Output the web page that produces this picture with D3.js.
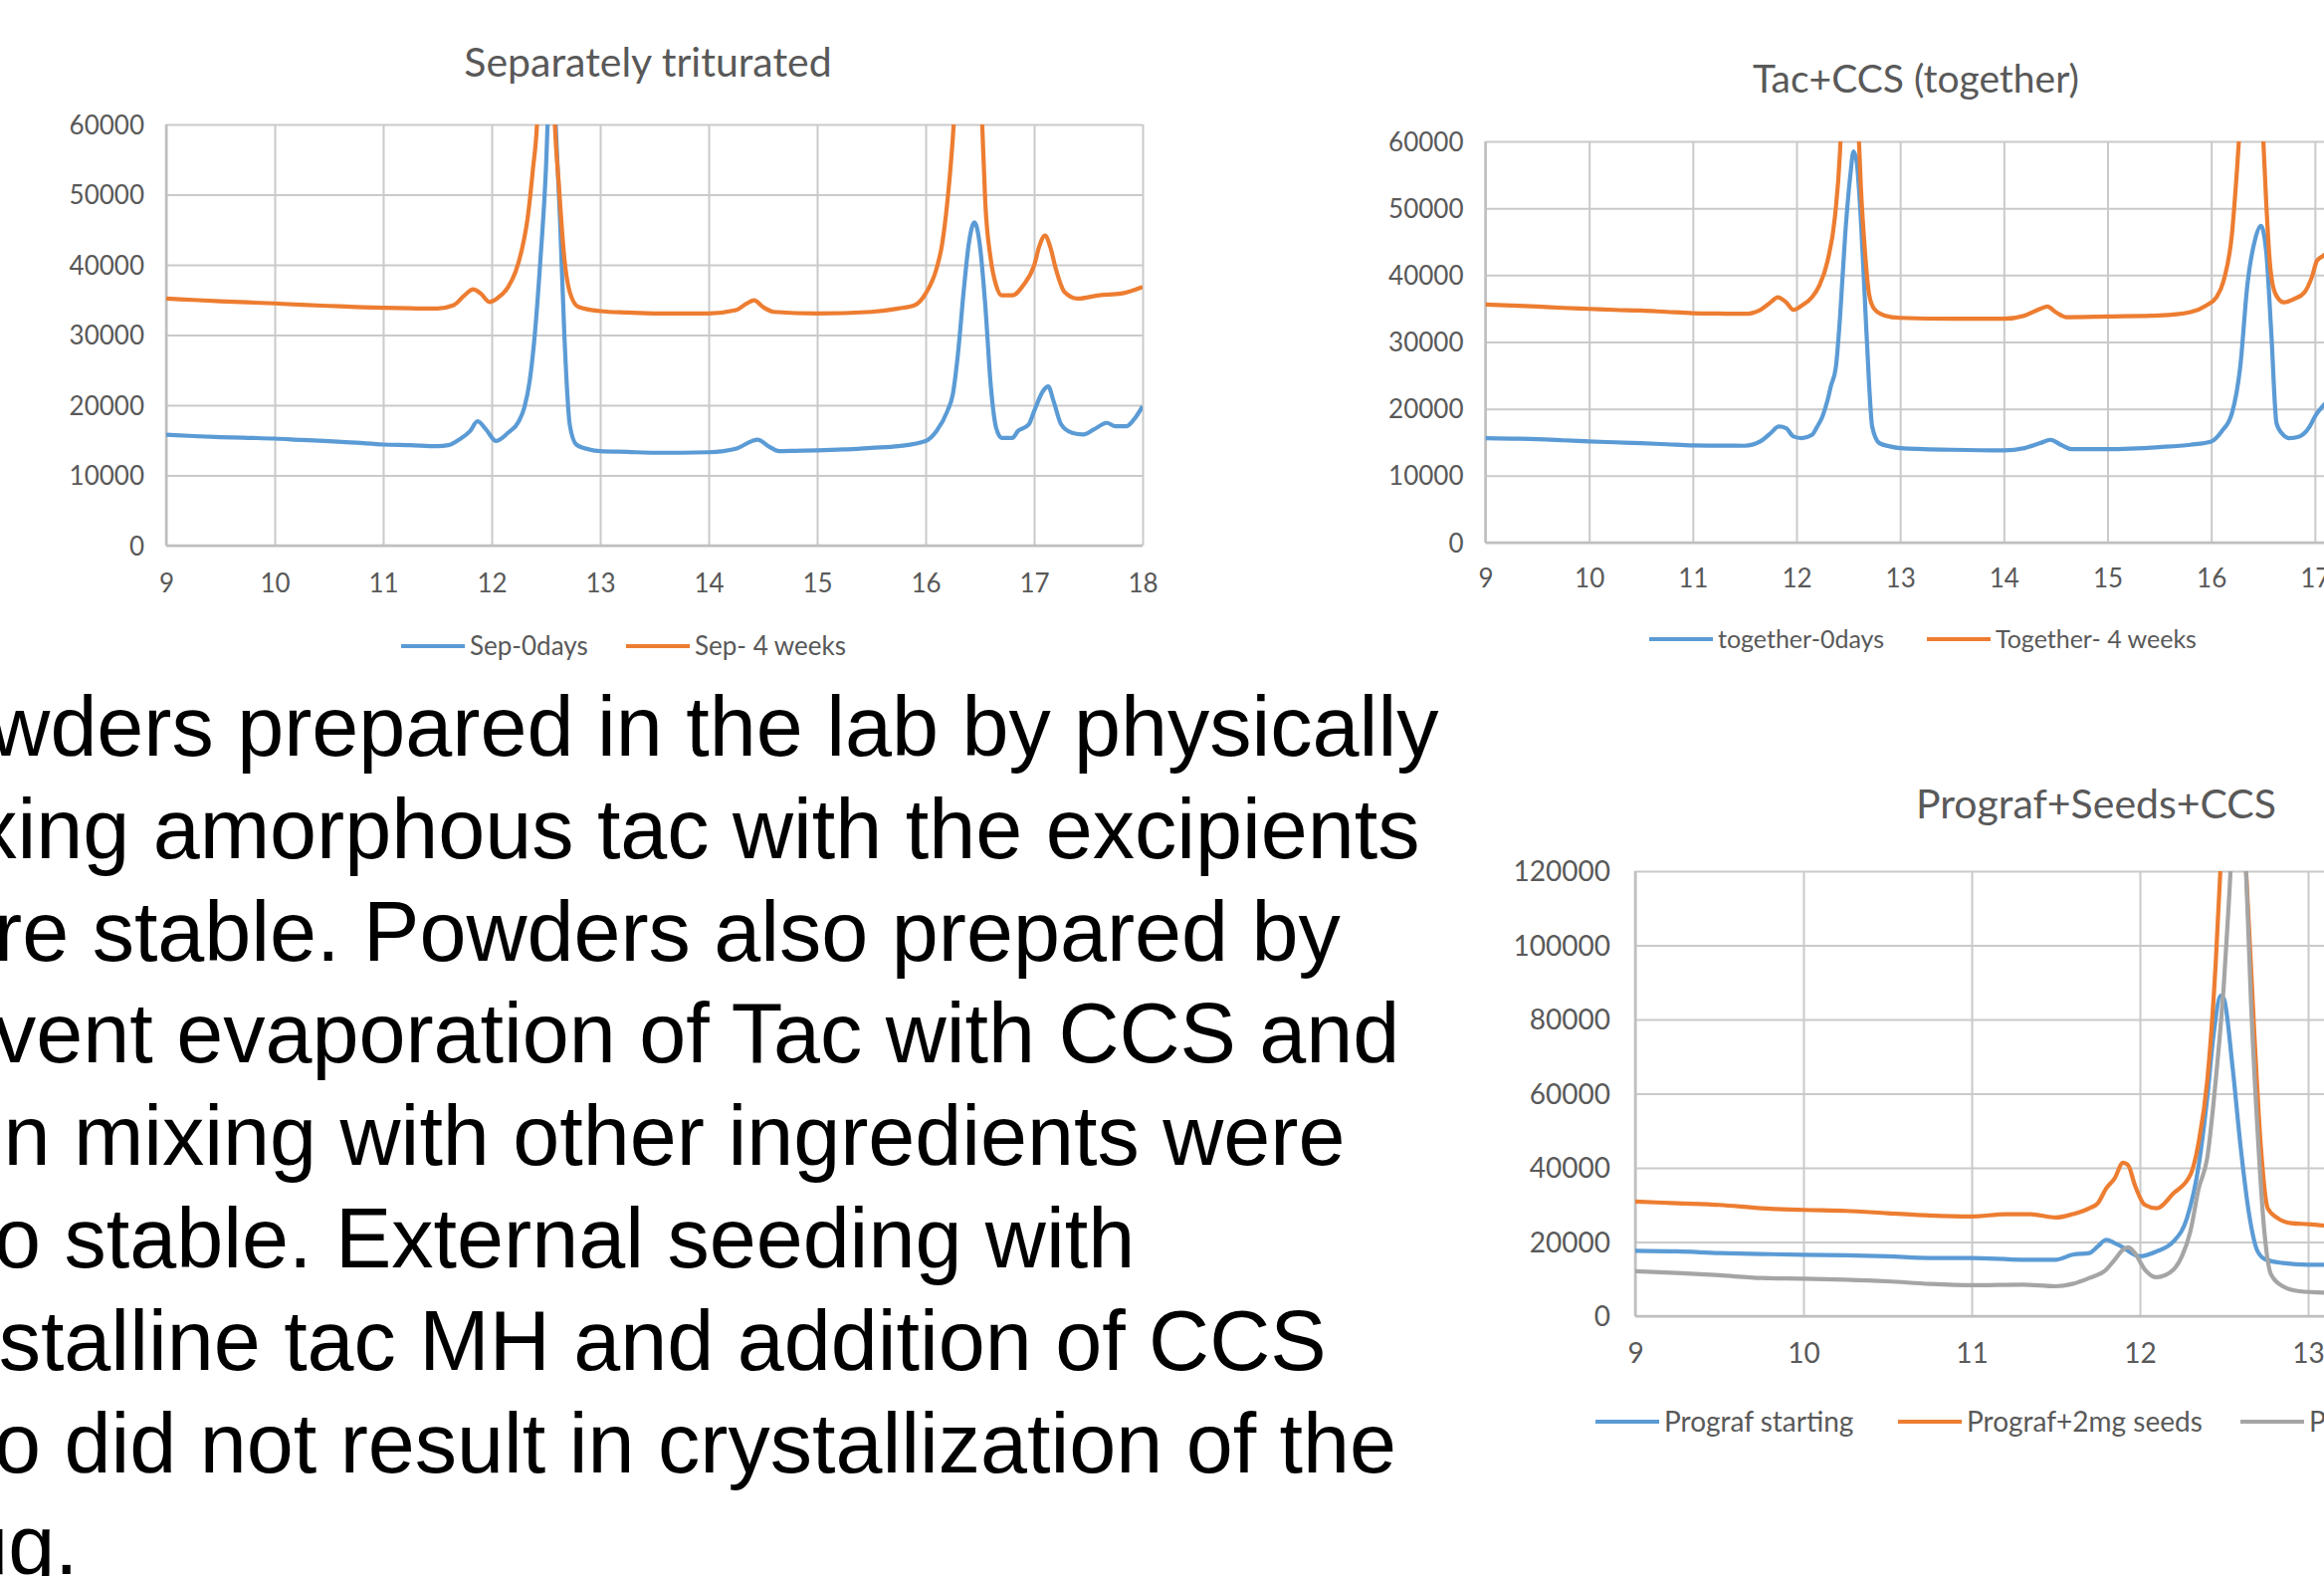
<!DOCTYPE html>
<html>
<head>
<meta charset="utf-8">
<script src="https://cdn.jsdelivr.net/npm/d3@7"></script>
<style>
body { margin: 0; background: #fff; overflow: hidden; }
svg { display: block; }
.tick text { fill: #595959; font-family: Lato, "Open Sans", sans-serif; }
</style>
</head>
<body>
<script>
var width = 2335,
    height = 1583;

// ---- data (2-theta, counts) ----
var sepTitle = "Separately triturated";
var sepNames = ["Sep-0days", "Sep- 4 weeks"];
var sep0days = [[9,15800],[9.25,15600],[9.5,15450],[9.75,15350],[10,15250],[10.25,15050],[10.5,14880],[10.75,14650],[11,14400],[11.25,14300],[11.5,14170],[11.6,14300],[11.7,15100],[11.8,16300],[11.87,17700],[11.95,16500],[12.04,14900],[12.15,16060],[12.25,17700],[12.3,19600],[12.35,23400],[12.4,30500],[12.45,40900],[12.5,53600],[12.53,66000],[12.56,72000],[12.59,60000],[12.63,46500],[12.67,30000],[12.72,17200],[12.78,14400],[12.9,13700],[13,13460],[13.25,13350],[13.5,13230],[13.75,13230],[14,13300],[14.25,13800],[14.4,14900],[14.45,15100],[14.55,14170],[14.65,13460],[14.8,13500],[15,13560],[15.25,13700],[15.5,13930],[15.75,14170],[16,14880],[16.1,16300],[16.2,19130],[16.25,21500],[16.3,27600],[16.35,36100],[16.4,43200],[16.45,46050],[16.5,42800],[16.55,34250],[16.6,22900],[16.65,16770],[16.7,15350],[16.8,15350],[16.85,16300],[16.95,17240],[17,19130],[17.08,21960],[17.13,22670],[17.18,20550],[17.25,17240],[17.35,16060],[17.45,15820],[17.55,16530],[17.67,17480],[17.75,17000],[17.85,17000],[17.92,17950],[18,19840]];
var sep4weeks = [[9,35200],[9.25,35000],[9.5,34800],[9.75,34650],[10,34500],[10.25,34300],[10.5,34150],[10.75,34000],[11,33870],[11.25,33800],[11.5,33770],[11.65,34250],[11.75,35660],[11.83,36500],[11.9,35900],[11.98,34700],[12.05,35200],[12.15,36800],[12.22,39000],[12.28,42300],[12.33,46500],[12.38,53600],[12.42,60700],[12.46,80000],[12.5,95000],[12.54,85000],[12.58,61000],[12.62,51250],[12.67,40900],[12.72,36100],[12.8,34000],[13,33400],[13.25,33200],[13.5,33070],[14,33070],[14.25,33540],[14.35,34480],[14.42,34950],[14.5,34000],[14.6,33300],[15,33070],[15.5,33300],[15.75,33770],[15.9,34250],[16,35900],[16.1,39440],[16.15,42750],[16.2,48900],[16.25,57900],[16.3,70000],[16.4,90000],[16.48,75000],[16.52,60700],[16.55,48900],[16.6,40860],[16.65,37080],[16.7,35660],[16.8,35660],[16.9,37080],[17,39900],[17.05,42750],[17.1,44170],[17.15,42500],[17.2,39440],[17.28,36140],[17.4,35190],[17.6,35660],[17.8,35900],[18,36850]];

var togTitle = "Tac+CCS (together)";
var togNames = ["together-0days", "Together- 4 weeks"];
var tog0days = [[9,15620],[9.25,15550],[9.5,15470],[9.75,15300],[10,15120],[10.25,15000],[10.5,14870],[10.75,14700],[11,14530],[11.25,14500],[11.5,14480],[11.65,15120],[11.75,16360],[11.83,17350],[11.9,17100],[11.97,15870],[12.05,15620],[12.15,16110],[12.2,17350],[12.25,18840],[12.3,21320],[12.33,23300],[12.38,26280],[12.42,33710],[12.47,46110],[12.52,55030],[12.55,58500],[12.58,57000],[12.62,48600],[12.66,36200],[12.7,23800],[12.73,17350],[12.8,14870],[12.9,14380],[13,14130],[13.5,13880],[14,13780],[14.2,14130],[14.35,14870],[14.45,15370],[14.55,14630],[14.65,13980],[15,13980],[15.5,14280],[15.8,14630],[16,15120],[16.1,16610],[16.2,19340],[16.28,26280],[16.35,38670],[16.42,45120],[16.48,47350],[16.53,43630],[16.58,31230],[16.63,17850],[16.68,16360],[16.75,15620],[16.85,15870],[16.95,17350],[17,18840],[17.1,20820],[17.2,22500]];
var tog4weeks = [[9,35600],[9.25,35450],[9.5,35300],[9.75,35100],[10,34950],[10.25,34800],[10.5,34700],[10.75,34500],[11,34310],[11.25,34250],[11.5,34210],[11.65,34800],[11.75,35940],[11.82,36690],[11.9,35940],[11.97,34800],[12.05,35450],[12.15,36690],[12.22,38420],[12.3,42140],[12.37,48590],[12.42,58500],[12.46,75000],[12.52,88000],[12.57,76000],[12.6,61000],[12.62,53500],[12.66,43630],[12.7,37180],[12.75,34950],[12.85,33960],[13,33610],[13.5,33470],[14,33470],[14.2,33960],[14.35,34950],[14.42,35300],[14.5,34460],[14.6,33710],[15,33810],[15.5,33960],[15.8,34460],[15.95,35450],[16.05,36690],[16.12,39170],[16.2,46110],[16.25,56020],[16.3,68000],[16.38,85000],[16.45,74000],[16.5,61000],[16.53,51070],[16.57,41150],[16.62,37180],[16.7,35940],[16.8,36440],[16.9,37430],[16.97,39660],[17.02,42140],[17.08,42880],[17.2,44000]];

var proTitle = "Prograf+Seeds+CCS";
var proNames = ["Prograf starting", "Prograf+2mg seeds", "Prograf+2mg seeds+CCS"];
var proStarting = [[9,17640],[9.25,17460],[9.5,17020],[9.75,16750],[10,16570],[10.25,16390],[10.5,16120],[10.75,15670],[11,15670],[11.3,15220],[11.5,15220],[11.6,16570],[11.7,17020],[11.75,18810],[11.8,20600],[11.85,19700],[11.9,18540],[11.95,17020],[12,16120],[12.1,17470],[12.2,20150],[12.28,26420],[12.35,40750],[12.4,58660],[12.44,76570],[12.48,86430],[12.5,85530],[12.55,67620],[12.6,45230],[12.65,27320],[12.7,17470],[12.75,15220],[12.85,14330],[13,13880],[13.15,13880]];
var proSeeds = [[9,30900],[9.25,30450],[9.5,30000],[9.75,29100],[10,28660],[10.25,28390],[10.5,27770],[10.75,27140],[11,26870],[11.2,27500],[11.35,27500],[11.5,26600],[11.6,27500],[11.7,29100],[11.75,30450],[11.8,34480],[11.85,37170],[11.9,41380],[11.93,40750],[11.97,35380],[12.03,30000],[12.1,29100],[12.2,33140],[12.3,38060],[12.35,47020],[12.4,63140],[12.45,94490],[12.48,121400],[12.55,160000],[12.63,121400],[12.68,76570],[12.72,45230],[12.76,29100],[12.82,26420],[12.9,25080],[13,24810],[13.15,24180]];
var proSeedsCCS = [[9,12090],[9.25,11640],[9.5,11020],[9.75,10300],[10,10120],[10.25,9850],[10.5,9400],[10.75,8690],[11,8330],[11.3,8510],[11.5,8060],[11.6,8690],[11.7,10300],[11.8,12540],[11.85,15220],[11.9,17910],[11.93,18540],[11.97,17020],[12.03,12540],[12.1,10480],[12.15,11020],[12.25,16120],[12.3,22840],[12.35,34480],[12.4,42540],[12.45,63140],[12.5,90010],[12.53,112400],[12.58,150000],[12.63,121400],[12.66,85530],[12.7,49710],[12.74,22840],[12.78,11200],[12.85,8060],[12.95,6720],[13.15,6270]];

var xTicks = [9, 10, 11, 12, 13, 14, 15, 16, 17, 18];
var yTicks60 = [0, 10000, 20000, 30000, 40000, 50000, 60000];
var yTicks120 = [0, 20000, 40000, 60000, 80000, 100000, 120000];

var textLines = [
  "Powders prepared in the lab by physically",
  "mixing amorphous tac with the excipients",
  "were stable. Powders also prepared by",
  "solvent evaporation of Tac with CCS and",
  "then mixing with other ingredients were",
  "also stable. External seeding with",
  "crystalline tac MH and addition of CCS",
  "also did not result in crystallization of the",
  "drug."
];

var colors = ["#5B9BD5", "#ED7D31", "#A5A5A5"];

var svg = d3.select("body").append("svg")
  .attr("width", width)
  .attr("height", height);

function drawChart(o) {
  var g = svg.append("g");
  var x = d3.scaleLinear().domain(o.xDomain).range([o.left, o.right]);
  var y = d3.scaleLinear().domain(o.yDomain).range([o.bottom, o.top]);

  var yAxis = g.append("g")
    .attr("transform", "translate(" + o.left + ",0)")
    .call(d3.axisLeft(y).tickValues(o.yTicks).tickSize(-(o.right - o.left)).tickPadding(o.yPad).tickFormat(d3.format("d")));
  var xAxis = g.append("g")
    .attr("transform", "translate(0," + o.bottom + ")")
    .call(d3.axisBottom(x).tickValues(o.xTicks).tickSize(-(o.bottom - o.top)).tickFormat(d3.format("d")));

  [yAxis, xAxis].forEach(function(a) {
    a.select(".domain").remove();
    a.selectAll(".tick line").attr("stroke", "#CACACA").attr("stroke-width", 2);
    a.selectAll(".tick text").style("font-size", o.tickSize + "px");
  });
  xAxis.selectAll(".tick text").attr("y", o.xLabelY - o.bottom).attr("dy", "0.35em");
  yAxis.selectAll(".tick text").attr("dy", "0.35em");

  // axis lines on top of grid
  g.append("line").attr("x1", o.left).attr("x2", o.right).attr("y1", o.bottom).attr("y2", o.bottom)
    .attr("stroke", "#BFBFBF").attr("stroke-width", 2.5);
  g.append("line").attr("x1", o.left).attr("x2", o.left).attr("y1", o.top).attr("y2", o.bottom)
    .attr("stroke", "#BFBFBF").attr("stroke-width", 2.5);

  var clipId = "clip-" + o.id;
  g.append("clipPath").attr("id", clipId)
    .append("rect").attr("x", o.left).attr("y", o.top)
    .attr("width", o.right - o.left).attr("height", o.bottom - o.top);

  var line = d3.line()
    .x(function(d) { return x(d[0]); })
    .y(function(d) { return y(d[1]); })
    .curve(d3.curveMonotoneX);

  g.append("g").attr("clip-path", "url(#" + clipId + ")")
    .selectAll("path")
    .data(o.series)
    .enter().append("path")
      .attr("fill", "none")
      .attr("stroke", function(d, i) { return colors[i]; })
      .attr("stroke-width", o.lineWidth)
      .attr("stroke-linejoin", "round")
      .attr("d", line);

  g.append("text")
    .attr("x", o.titleX).attr("y", o.titleY)
    .attr("text-anchor", "middle").attr("dy", "0.35em")
    .style("font-family", "Lato, 'Open Sans', sans-serif")
    .style("font-size", o.titleSize + "px")
    .style("fill", "#595959")
    .text(o.title);

  var leg = g.append("g").selectAll("g")
    .data(o.names)
    .enter().append("g")
      .attr("transform", function(d, i) { return "translate(" + o.legendX[i] + "," + o.legendY + ")"; });
  leg.append("line")
    .attr("x1", 0).attr("x2", 64)
    .attr("stroke", function(d, i) { return colors[i]; })
    .attr("stroke-width", 4);
  leg.append("text")
    .attr("x", 69).attr("dy", "0.35em")
    .style("font-family", "Lato, 'Open Sans', sans-serif")
    .style("font-size", o.legendSize + "px")
    .style("fill", "#595959")
    .text(function(d) { return d; });
}

drawChart({
  id: "sep", title: sepTitle, names: sepNames, series: [sep0days, sep4weeks],
  xDomain: [9, 18], yDomain: [0, 60000], xTicks: xTicks, yTicks: yTicks60,
  left: 167, right: 1148, top: 125, bottom: 548,
  yPad: 22, xLabelY: 586, tickSize: 26, lineWidth: 4.2,
  titleX: 651, titleY: 63, titleSize: 41,
  legendX: [403, 629], legendY: 649, legendSize: 26
});

drawChart({
  id: "tog", title: togTitle, names: togNames, series: [tog0days, tog4weeks],
  xDomain: [9, 18], yDomain: [0, 60000], xTicks: xTicks, yTicks: yTicks60,
  left: 1492.5, right: 2430, top: 142, bottom: 545,
  yPad: 22, xLabelY: 581, tickSize: 26, lineWidth: 4.2,
  titleX: 1925, titleY: 79, titleSize: 39,
  legendX: [1657, 1936], legendY: 642, legendSize: 25
});

drawChart({
  id: "pro", title: proTitle, names: proNames, series: [proStarting, proSeeds, proSeedsCCS],
  xDomain: [9, 15], yDomain: [0, 120000], xTicks: xTicks, yTicks: yTicks120,
  left: 1643, right: 2657, top: 875, bottom: 1322,
  yPad: 25, xLabelY: 1359, tickSize: 28, lineWidth: 4.2,
  titleX: 2106, titleY: 808, titleSize: 41,
  legendX: [1603, 1907, 2251], legendY: 1428, legendSize: 28
});

// body text, clipped at the left page edge as in the slide
svg.append("g")
  .selectAll("text")
  .data(textLines)
  .enter().append("text")
    .attr("x", -114)
    .attr("y", function(d, i) { return 759 + i * 102.8; })
    .style("font-family", "Arial, 'Liberation Sans', sans-serif")
    .style("font-size", "84.5px")
    .style("fill", "#000")
    .text(function(d) { return d; });
</script>
</body>
</html>
